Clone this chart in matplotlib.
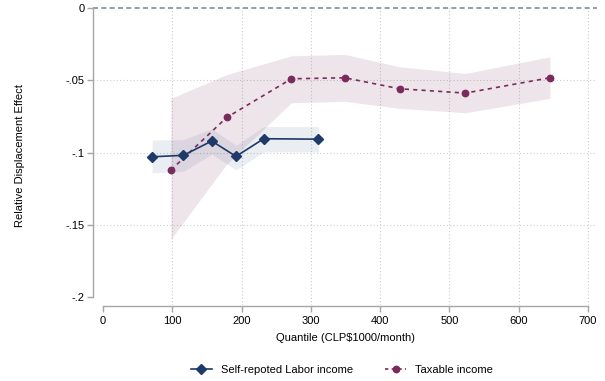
import matplotlib
matplotlib.use("Agg")
import matplotlib.pyplot as plt
from matplotlib.lines import Line2D

plt.rcParams['font.family'] = ['Liberation Sans', 'DejaVu Sans']

# Self-reported labor income
labor_x = [71, 116, 157, 192, 232, 311]
labor_y = [-0.1029, -0.1019, -0.0920, -0.1026, -0.0904, -0.0907]
labor_lo = [-0.1140, -0.1130, -0.1010, -0.1120, -0.0995, -0.0995]
labor_hi = [-0.0913, -0.0910, -0.0835, -0.0950, -0.0820, -0.0820]

# Taxable income
tax_x = [98, 178.5, 272, 349, 428, 523, 645]
tax_y = [-0.1121, -0.0757, -0.0489, -0.0482, -0.0558, -0.0588, -0.0482]
tax_lo = [-0.1600, -0.1080, -0.0655, -0.0645, -0.0694, -0.0724, -0.0625]
tax_hi = [-0.0625, -0.0460, -0.0330, -0.0320, -0.0406, -0.0452, -0.0337]

x_ticks = [0, 100, 200, 300, 400, 500, 600, 700]
y_ticks = [0, -0.05, -0.1, -0.15, -0.2]
y_ticklabels = ['0', '-.05', '-.1', '-.15', '-.2']

navy = '#1d3a68'
maroon = '#7a2b5c'
axis_gray = '#a6a6a6'
fs = 8

fig = plt.figure(figsize=(6.05, 3.81), dpi=100)
ax = fig.add_axes([0.1537, 0.1995, 0.8331, 0.7848])

# confidence bands
ax.fill_between(tax_x, tax_lo, tax_hi, color=maroon, alpha=0.12, linewidth=0, zorder=1)
ax.fill_between(labor_x, labor_lo, labor_hi, color=navy, alpha=0.09, linewidth=0, zorder=1.5)

# gridlines
for xv in x_ticks[1:]:
    ax.axvline(xv, color='#cccccc', lw=0.8, ls=(0, (1, 2)), zorder=0.5)
for yv in y_ticks[1:4]:
    ax.axhline(yv, color='#cccccc', lw=0.8, ls=(0, (1, 2)), zorder=0.5)

# zero reference line
ax.axhline(0, color='#7d8ea8', lw=1.2, ls=(0, (3, 2)), zorder=2)

# point estimates
ax.plot(labor_x, labor_y, color=navy, lw=1.2, marker='D', ms=4.8,
        markeredgecolor=navy, zorder=4)
ax.plot(tax_x, tax_y, color=maroon, lw=1.2, ls=(0, (2.5, 2.5)), marker='o', ms=4.6,
        markeredgecolor=maroon, zorder=3)

ax.set_xlim(-14.4, 713)
ax.set_ylim(-0.2055, 0.0015)

for s in ['top', 'right']:
    ax.spines[s].set_visible(False)
ax.spines['left'].set_bounds(-0.2, 0)
ax.spines['bottom'].set_bounds(0, 700)
ax.spines['bottom'].set_position(('outward', 1))
for s in ['left', 'bottom']:
    ax.spines[s].set_color(axis_gray)
    ax.spines[s].set_linewidth(1.0)

ax.set_xticks(x_ticks)
ax.set_yticks(y_ticks)
ax.set_yticklabels(y_ticklabels)
ax.tick_params(axis='both', colors=axis_gray, labelcolor='black', labelsize=fs,
               length=4, width=1.0)
ax.tick_params(axis='y', pad=2)
ax.tick_params(axis='x', pad=3)

ax.set_xlabel('Quantile (CLP$1000/month)', fontsize=fs, labelpad=5)
ax.set_ylabel('Relative Displacement Effect', fontsize=fs, labelpad=29)

handles = [
    Line2D([0], [0], color=navy, lw=1.2, marker='D', ms=4.8),
    Line2D([0], [0], color=maroon, lw=1.2, ls=(0, (2, 2)), marker='o', ms=4.6),
]
fig.legend(handles, ['Self-repoted Labor income', 'Taxable income'],
           loc='center', bbox_to_anchor=(0.565, 0.03), ncol=2, frameon=False,
           fontsize=fs, handlelength=1.9, columnspacing=2.9, handletextpad=0.8)

fig.savefig('out.png', dpi=100)
